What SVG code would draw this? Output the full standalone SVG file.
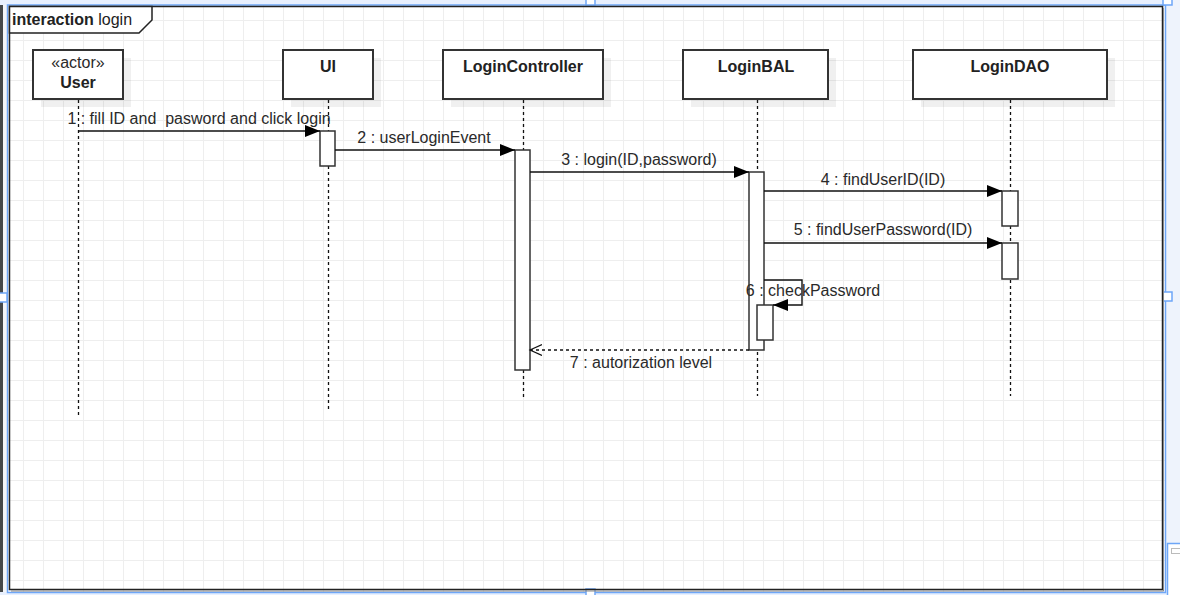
<svg xmlns="http://www.w3.org/2000/svg" width="1180" height="595" viewBox="0 0 1180 595">
  <style>
    .lbl { font-family: "Liberation Sans", Arial, sans-serif; font-size: 16px; fill: #2a2a2a; white-space: pre; }
    .bold { font-family: "Liberation Sans", Arial, sans-serif; font-size: 16px; font-weight: bold; fill: #222; }
    .head { fill: #fff; stroke: #333; stroke-width: 2; }
    .shadow { fill: #000; fill-opacity: 0.06; }
    .life { stroke: #111; stroke-width: 1.3; stroke-dasharray: 3 3; fill: none; }
    .act { fill: #fff; stroke: #333; stroke-width: 1.5; }
    .msg { stroke: #111; stroke-width: 1.4; fill: none; }
    .ret { stroke: #111; stroke-width: 1.3; fill: none; stroke-dasharray: 3 3; }
    .sel { stroke: #6ea6f7; stroke-width: 1.5; fill: none; }
    .handle { fill: #fff; stroke: #6ea6f7; stroke-width: 1.5; }
  </style>
  <defs>
    <pattern id="grid" patternUnits="userSpaceOnUse" x="3" y="0" width="20" height="20">
      <path d="M0.5 0 V20 M0 0.5 H20" stroke="#eeeeee" stroke-width="1" fill="none"/>
    </pattern>
    <marker id="filled" markerUnits="userSpaceOnUse" markerWidth="16" markerHeight="13" refX="15" refY="6" orient="auto">
      <path d="M0,0 L15,6 L0,12 Z" fill="#000"/>
    </marker>
    <marker id="open" markerUnits="userSpaceOnUse" markerWidth="14" markerHeight="13" refX="12" refY="6" orient="auto">
      <path d="M0,0.5 L12,6 L0,11.5" fill="none" stroke="#111" stroke-width="1.2"/>
    </marker>
  </defs>

  <!-- canvas background and grid -->
  <rect x="0" y="0" width="1180" height="595" fill="#fff"/>
  <rect x="0" y="0" width="1180" height="595" fill="url(#grid)"/>

  <!-- editor chrome / selection -->
  <rect x="0" y="0" width="3" height="595" fill="#45484a"/>
  <rect x="3" y="0" width="4" height="595" fill="#f3f5f8"/>
  <rect x="0" y="0" width="1180" height="5" fill="#e8f0fe"/>
  <rect x="1166" y="0" width="14" height="595" fill="#eef3fc"/>
  <rect x="0" y="592" width="1180" height="3" fill="#e8f0fe"/>
  <rect x="7.5" y="5" width="1158" height="587.5" class="sel"/>
  <rect x="1167.5" y="543.5" width="20" height="60" fill="#fff" stroke="#6ea6f7" stroke-width="1.5"/>
  <rect x="1171.5" y="548.5" width="12" height="5" fill="#fff" stroke="#bbb" stroke-width="1"/>
  <rect x="586" y="-3" width="9" height="8" class="handle"/>
  <rect x="1163" y="-3" width="9" height="8" class="handle"/>
  <rect x="1163" y="292" width="9" height="9" class="handle"/>
  <rect x="-1" y="293" width="8" height="9" class="handle"/>
  <rect x="586" y="589" width="9" height="9" class="handle"/>

  <!-- interaction frame -->
  <g id="frame">
    <rect x="9.5" y="6.5" width="1153" height="583" fill="none" stroke="#222" stroke-width="1.5"/>
    <path d="M1163.5,8 V591 H11" fill="none" stroke="#888" stroke-width="1"/>
    <path d="M9.5,6.5 H152 V20 L139,33 H9.5 Z" fill="#fff" stroke="#222" stroke-width="1.5"/>
    <text x="12" y="25" class="bold">interaction<tspan style="font-weight:normal"> login</tspan></text>
  </g>

  <!-- lifelines -->
  <g id="user">
    <rect x="41" y="58" width="90" height="49" class="shadow"/>
    <rect x="33" y="50" width="90" height="49" class="head"/>
    <text x="78" y="68" class="lbl" text-anchor="middle">«actor»</text>
    <text x="78" y="88" class="bold" text-anchor="middle">User</text>
    <path d="M78.5,100 V418" class="life"/>
  </g>
  <g id="ui">
    <rect x="291" y="58" width="90" height="49" class="shadow"/>
    <rect x="283" y="50" width="90" height="49" class="head"/>
    <text x="328" y="72" class="bold" text-anchor="middle">UI</text>
    <path d="M328.5,100 V410" class="life"/>
    <rect x="320" y="131" width="15" height="35" class="act"/>
  </g>
  <g id="loginController">
    <rect x="451" y="58" width="160" height="49" class="shadow"/>
    <rect x="443" y="50" width="160" height="49" class="head"/>
    <text x="523" y="72" class="bold" text-anchor="middle">LoginController</text>
    <path d="M523.5,100 V397" class="life"/>
    <rect x="515" y="150" width="15" height="220" class="act"/>
  </g>
  <g id="loginBAL">
    <rect x="691" y="58" width="145" height="49" class="shadow"/>
    <rect x="683" y="50" width="145" height="49" class="head"/>
    <text x="756" y="72" class="bold" text-anchor="middle">LoginBAL</text>
    <path d="M757.5,100 V396" class="life"/>
    <rect x="749" y="172" width="15" height="178" class="act"/>
    <rect x="757" y="305" width="16" height="35" class="act"/>
  </g>
  <g id="loginDAO">
    <rect x="921" y="58" width="194" height="49" class="shadow"/>
    <rect x="913" y="50" width="194" height="49" class="head"/>
    <text x="1010" y="72" class="bold" text-anchor="middle">LoginDAO</text>
    <path d="M1010.5,100 V396" class="life"/>
    <rect x="1002" y="191" width="16" height="35" class="act"/>
    <rect x="1002" y="243" width="16" height="36" class="act"/>
  </g>

  <!-- messages -->
  <g id="connectors">
    <path d="M78,131 H320" class="msg" marker-end="url(#filled)"/>
    <text x="199" y="124" class="lbl" text-anchor="middle">1 : fill ID and  pasword and click login</text>

    <path d="M335,150 H515" class="msg" marker-end="url(#filled)"/>
    <text x="424" y="143" class="lbl" text-anchor="middle">2 : userLoginEvent</text>

    <path d="M530,172 H749" class="msg" marker-end="url(#filled)"/>
    <text x="639" y="165" class="lbl" text-anchor="middle">3 : login(ID,password)</text>

    <path d="M764,191 H1002" class="msg" marker-end="url(#filled)"/>
    <text x="883" y="185" class="lbl" text-anchor="middle">4 : findUserID(ID)</text>

    <path d="M764,243 H1002" class="msg" marker-end="url(#filled)"/>
    <text x="883" y="235" class="lbl" text-anchor="middle">5 : findUserPassword(ID)</text>

    <path d="M764,280 H802 V305 H773" class="msg" marker-end="url(#filled)"/>
    <text x="813" y="296" class="lbl" text-anchor="middle">6 : checkPassword</text>

    <path d="M749,350 H530" class="ret" marker-end="url(#open)"/>
    <text x="641" y="368" class="lbl" text-anchor="middle">7 : autorization level</text>
  </g>
</svg>
